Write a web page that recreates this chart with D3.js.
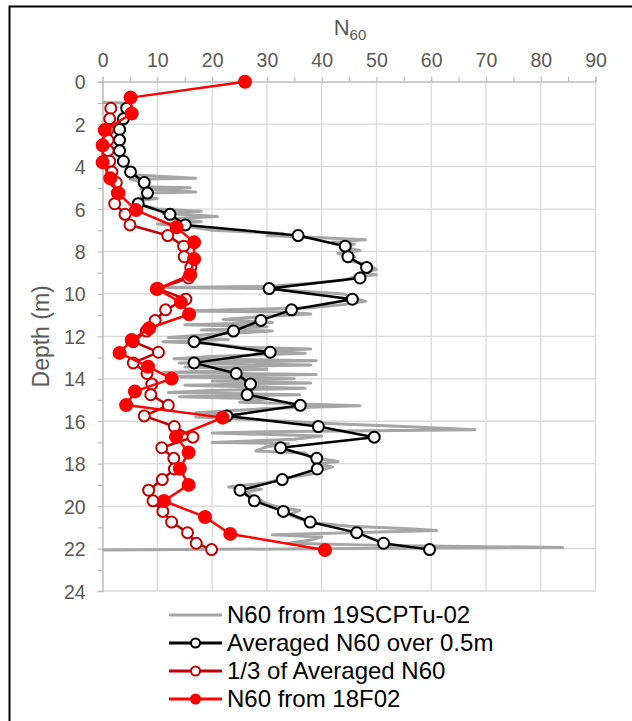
<!DOCTYPE html>
<html>
<head>
<meta charset="utf-8">
<script src="https://cdn.jsdelivr.net/npm/d3@7/dist/d3.min.js"></script>
<style>
  body { margin: 0; background: #fff; }
  svg { display: block; font-family: "Liberation Sans", Arial, sans-serif; }
</style>
</head>
<body>
<svg id="chart" width="632" height="721"></svg>
<script>
// depths (m) of the 0.5 m averages
var avgDepth = [1.25,1.75,2.25,2.75,3.25,3.75,4.25,4.75,5.25,5.75,6.25,6.75,7.25,7.75,8.25,8.75,9.25,9.75,10.25,10.75,
  11.25,11.75,12.25,12.75,13.25,13.75,14.25,14.75,15.25,15.75,16.25,16.75,17.25,17.75,18.25,18.75,19.25,19.75,
  20.25,20.75,21.25,21.75,22.05];
// Averaged N60 over 0.5m
var avgN60 = [4.4,3.8,3.1,3.1,3.1,3.8,5.1,7.6,8.2,6.5,12.3,15.1,35.7,44.3,44.8,48.2,47.0,30.4,45.6,34.5,
  28.9,23.9,16.7,30.6,16.7,24.4,27.0,26.4,36.1,22.7,39.4,49.6,32.5,39.1,39.2,32.8,25.1,27.7,
  33.0,37.9,46.4,51.3,59.7];
// 1/3 of Averaged N60
var thirdN60 = [1.5,1.3,1.0,1.0,1.0,1.3,1.7,2.5,2.7,2.2,4.1,5.0,11.9,14.8,14.9,16.1,15.7,10.1,15.2,11.5,
  9.6,8.0,5.6,10.2,5.6,8.1,9.0,8.8,12.0,7.6,13.1,16.5,10.8,13.0,13.1,10.9,8.4,9.2,
  11.0,12.6,15.5,17.1,19.9];
// N60 from 18F02
var sptDepth = [0,0.75,1.5,2.28,3.0,3.8,4.55,5.26,6.05,6.86,7.57,8.36,9.1,9.77,10.4,10.96,11.62,12.17,12.78,13.43,
  13.99,14.6,15.24,15.83,16.73,17.47,18.24,19.0,19.76,20.51,21.31,22.07];
var sptN60 = [26.0,5.1,5.3,0.4,0,0,1.4,2.9,6.1,13.5,16.7,16.7,16.0,9.9,14.3,15.8,8.5,5.3,3.1,8.3,
  12.6,5.9,4.3,21.9,13.4,15.7,14.1,15.7,11.2,18.7,23.3,40.6];
// N60 from 19SCPTu-02 (traced)
var cptDepth = [0.98,1.0,1.1,1.3,1.6,1.9,2.2,2.6,3.0,3.4,3.8,4.1,4.4,
  4.55,4.6,4.75,4.95,5.0,5.05,5.2,5.25,5.45,5.5,5.6,5.8,6.0,6.1,6.2,6.35,6.45,6.6,6.7,6.8,7.0,7.1,7.15,7.25,
  7.35,7.45,7.55,7.65,7.8,7.95,8.1,8.25,8.4,8.55,8.7,8.85,9.0,9.1,9.2,9.35,9.5,9.65,9.7,9.75,9.85,10.0,
  10.2,10.35,10.5,10.65,10.8,10.85,10.95,11.05,11.2,11.35,11.45,11.55,11.7,11.75,11.9,12.05,12.15,12.25,
  12.35,12.5,12.6,12.7,12.8,12.95,13.05,13.15,13.25,13.35,13.45,13.55,13.7,13.8,13.9,14.0,14.1,14.2,14.3,
  14.45,14.55,14.65,14.75,14.85,14.95,15.1,15.27,15.4,15.6,15.7,15.8,15.95,16.1,16.25,16.4,16.5,16.55,
  16.7,16.85,17.0,17.05,17.2,17.4,17.5,17.7,17.9,18.0,18.15,18.3,18.5,18.7,18.9,19.1,19.2,19.35,19.6,
  19.9,20.1,20.2,20.4,20.6,20.8,20.95,21.05,21.15,21.25,21.35,21.45,21.6,21.75,21.85,21.95,22.0,22.07];
var cptN60 = [0,4,3.5,4.5,4,3.5,3,3.2,3.3,3.5,4.2,5,6,
  17,5,8,7,16,7,17,8,7,10,6.5,7,10,18,11,21,13,18,10,15,20,28,33,30,
  40,48,42,46,44,47,43,46,44,47,49,50,47,50,46,44,38,30,10,30,35,44,
  46,48,44,38,15,33,38,30,22,31,15,30,18,31,20,12,23,11,
  20,25,38,28,37,20,13,39,14,38,15,30,11,39,12,35,20,38,15,
  37,20,12,36,14,30,25,47,30,17,25,17,30,40,55,68,30,20,
  40,35,20,34,30,28,37,38,43,39,42,40,38,33,30,23,29,26,28,
  30,33,36,34,36,39,45,55,61,45,31,40,38,34,51,84,45,0];
var xTicks = [0,10,20,30,40,50,60,70,80,90];
var yTicks = [0,2,4,6,8,10,12,14,16,18,20,22,24];
var legendLabels = ["N60 from 19SCPTu-02","Averaged N60 over 0.5m","1/3 of Averaged N60","N60 from 18F02"];

var svg = d3.select("#chart");

// outer frame
svg.append("rect").attr("x", 9.5).attr("y", 6.5).attr("width", 700).attr("height", 800)
  .attr("fill", "#fff").attr("stroke", "#000").attr("stroke-width", 2);

var x = d3.scaleLinear().domain([0, 90]).range([102.6, 595.5]);
var y = d3.scaleLinear().domain([0, 24]).range([81.7, 591]);

// gridlines
svg.append("g").selectAll("line").data(xTicks).enter().append("line")
  .attr("x1", function(d) { return x(d); }).attr("x2", function(d) { return x(d); })
  .attr("y1", y(0)).attr("y2", y(24))
  .attr("stroke", "#d9d9d9").attr("stroke-width", 1.3);
svg.append("g").selectAll("line").data(yTicks).enter().append("line")
  .attr("x1", x(0)).attr("x2", x(90))
  .attr("y1", function(d) { return y(d); }).attr("y2", function(d) { return y(d); })
  .attr("stroke", "#d9d9d9").attr("stroke-width", 1.3);

// axes
var xAxis = svg.append("g").attr("transform", "translate(0," + y(0) + ")")
  .call(d3.axisTop(x).tickValues(d3.range(0, 91, 5)).tickSize(5).tickPadding(10)
    .tickFormat(function(d) { return d % 10 === 0 ? d : ""; }));
var yAxis = svg.append("g").attr("transform", "translate(" + x(0) + ",0)")
  .call(d3.axisLeft(y).tickValues(d3.range(0, 25, 1)).tickSize(5).tickPadding(12)
    .tickFormat(function(d) { return d % 2 === 0 ? d : ""; }));
[xAxis, yAxis].forEach(function(a) {
  a.select(".domain").attr("stroke", "#bfbfbf").attr("stroke-width", 1.3);
  a.selectAll(".tick line").attr("stroke", "#bfbfbf").attr("stroke-width", 1.3);
  a.selectAll(".tick text").attr("fill", "#595959").style("font-size", "19.5px")
    .style("font-family", "'Liberation Sans', Arial, sans-serif");
});
yAxis.selectAll(".tick text").attr("dy", "0.36em");

// axis titles
var t = svg.append("text").attr("x", 350).attr("y", 35).attr("text-anchor", "middle")
  .attr("fill", "#595959").style("font-size", "22px");
t.append("tspan").text("N");
t.append("tspan").attr("dy", 5).style("font-size", "15px").text("60");
svg.append("text").attr("transform", "translate(49," + y(12) + ") rotate(-90)")
  .attr("text-anchor", "middle").attr("fill", "#595959").style("font-size", "23px").text("Depth (m)");

// series
var line = d3.line().x(function(d) { return x(d[1]); }).y(function(d) { return y(d[0]); });
var cpt = d3.zip(cptDepth, cptN60);
var avg = d3.zip(avgDepth, avgN60);
var third = d3.zip(avgDepth, thirdN60);
var spt = d3.zip(sptDepth, sptN60);

svg.append("path").datum(cpt).attr("d", line).attr("fill", "none")
  .attr("stroke", "#a6a6a6").attr("stroke-width", 3).attr("stroke-linejoin", "round");

function series(data, color, fill, r, w) {
  var g = svg.append("g");
  g.append("path").datum(data).attr("d", line).attr("fill", "none")
    .attr("stroke", color).attr("stroke-width", w).attr("stroke-linejoin", "round");
  g.selectAll("circle").data(data).enter().append("circle")
    .attr("cx", function(d) { return x(d[1]); }).attr("cy", function(d) { return y(d[0]); })
    .attr("r", r).attr("fill", fill).attr("stroke", color).attr("stroke-width", 2);
}
series(avg, "#000000", "#ffffff", 5.5, 2.5);
series(third, "#c00000", "#ffffff", 5.5, 2.5);
series(spt, "#ff0000", "#ff0000", 6, 2.5);

// legend
var legendItems = [
  { label: legendLabels[0], color: "#a6a6a6", fill: null },
  { label: legendLabels[1], color: "#000000", fill: "#ffffff" },
  { label: legendLabels[2], color: "#c00000", fill: "#ffffff" },
  { label: legendLabels[3], color: "#ff0000", fill: "#ff0000" }
];
var lg = svg.append("g").selectAll("g").data(legendItems).enter().append("g")
  .attr("transform", function(d, i) { return "translate(0," + (615 + i * 28) + ")"; });
lg.append("line").attr("x1", 169).attr("x2", 222).attr("y1", 0).attr("y2", 0)
  .attr("stroke", function(d) { return d.color; }).attr("stroke-width", 3);
lg.filter(function(d) { return d.fill; }).append("circle")
  .attr("cx", 195.5).attr("cy", 0).attr("r", 4.5)
  .attr("fill", function(d) { return d.fill; })
  .attr("stroke", function(d) { return d.color; }).attr("stroke-width", 2);
lg.append("text").attr("x", 227).attr("y", 0).attr("dy", "0.35em")
  .style("font-size", "24px").attr("fill", "#000").text(function(d) { return d.label; });
</script>
</body>
</html>
